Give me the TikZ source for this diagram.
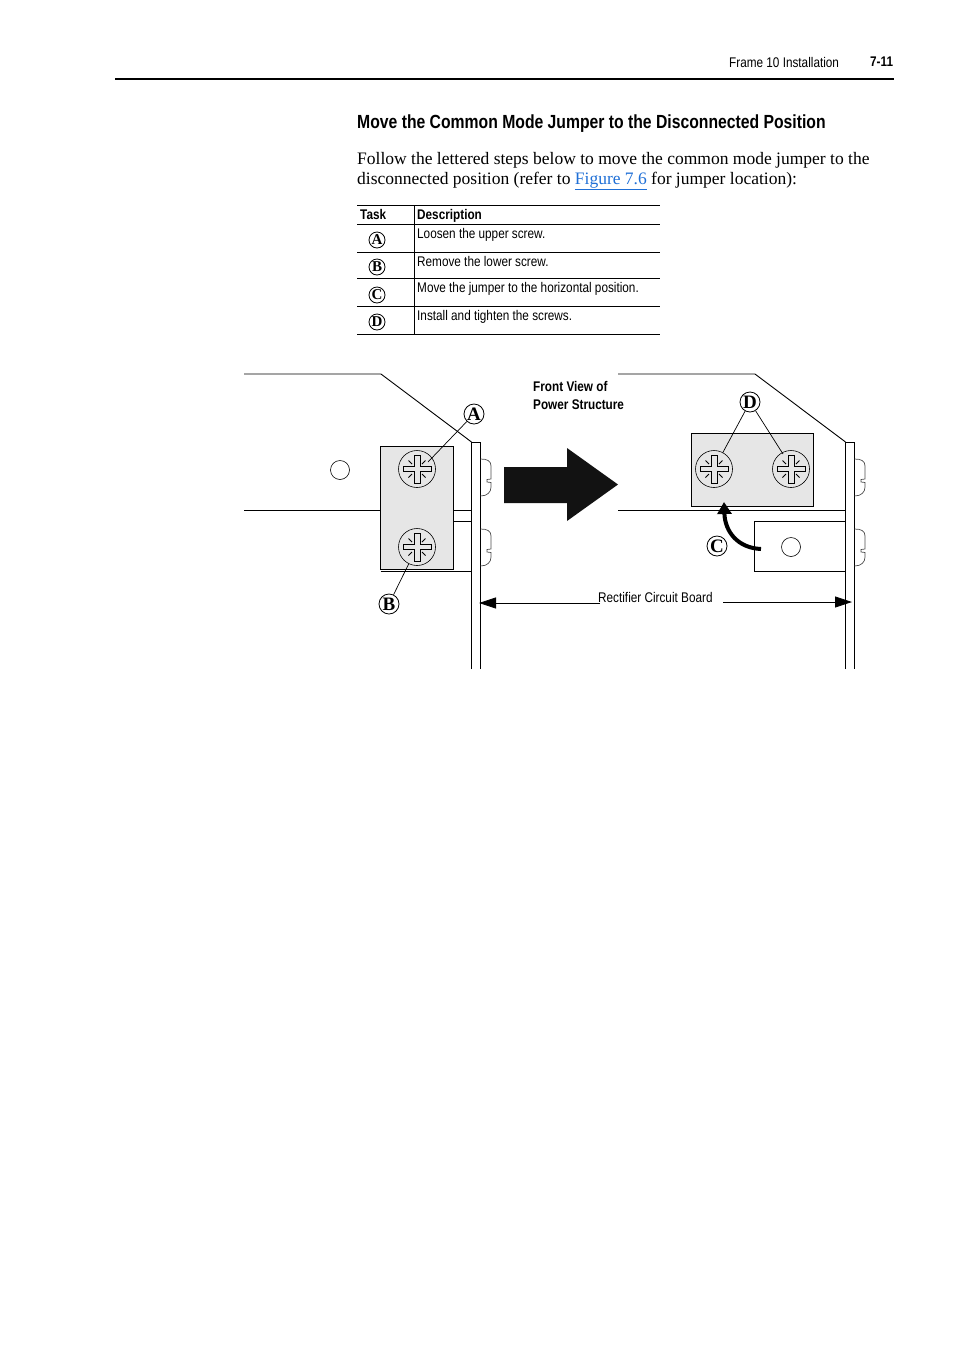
\documentclass[tikz,border=0pt]{standalone}
\usepackage{fontspec}
\setmainfont{Liberation Serif}
\newfontfamily\narrowsans[FakeStretch=0.84]{Liberation Sans}
\newfontfamily\headsans[FakeStretch=0.828]{Liberation Sans}
\usetikzlibrary{
  arrows.meta,
  positioning
}
\definecolor{platefill}{HTML}{E6E6E6}
\definecolor{linkblue}{HTML}{1F6FD6}
\tikzset{
  txtsmall/.style={inner sep=0, anchor=base west, font=\narrowsans\fontsize{14}{14}\selectfont},
  txtbold/.style={inner sep=0, anchor=base west, font=\narrowsans\bfseries\fontsize{14}{14}\selectfont},
  txtbody/.style={inner sep=0, anchor=base west, font=\fontsize{17.5}{20}\selectfont},
  callout/.style={circle, draw, line width=0.8, fill=white, inner sep=0, minimum size=20, font=\bfseries\fontsize{19}{19}\selectfont},
  taskmark/.style={circle, draw, line width=0.8, inner sep=0, minimum size=16, font=\bfseries\fontsize{15}{15}\selectfont},
  screwhead/.style={circle, draw, line width=0.6, inner sep=0, minimum size=37},
  hole/.style={circle, draw, line width=0.6, inner sep=0, minimum size=19},
  outline/.style={line width=0.9},
  leader/.style={line width=0.7},
  boardarrow/.style={line width=0.8, -{Stealth[inset=0,length=17,width=11]}},
  crosshead/.pic={
    \draw[line width=0.8, fill=platefill]
    (-14,-2.5) -- (-3,-2.5) -- (-3,-14) -- (3,-14) -- (3,-2.5) -- (14,-2.5)
    -- (14,2.5) -- (3,2.5) -- (3,14) -- (-3,14) -- (-3,2.5) -- (-14,2.5) -- cycle;
    \foreach \sx in {-1,1}
    \foreach \sy in {-1,1}
    \draw[line width=1] (\sx*5,\sy*5) -- (\sx*8.5,\sy*8.5);
  },
  bolthead/.pic={
    \draw[line width=0.7, draw=black!70]
    (0,0) .. controls (7,0) and (10.5,2) .. (10.5,7) -- (10.5,20) -- (6.5,20.5)
    -- (6.5,23) -- (10.5,23.5) -- (10.5,28) .. controls (10.5,33) and (7,37) .. (0,37);
  }
}
\begin{document}
\begin{tikzpicture}[x=1pt,y=-1pt]
  \useasboundingbox (0,0) rectangle (954,1350);

  % page header
  \node[txtsmall] (hdrname) at (729,67) {Frame 10 Installation};
  \node[txtbold] (hdrpage) at (870,66) {7-11};
  \draw[line width=1.8] (115,79) -- (894,79);

  % heading and paragraph
  \node[inner sep=0, anchor=base west, font=\headsans\bfseries\fontsize{19}{19}\selectfont]
  (heading) at (357,128) {Move the Common Mode Jumper to the Disconnected Position};
  \node[txtbody] (para1) at (357,164) {Follow the lettered steps below to move the common mode jumper to the};
  \node[txtbody] (para2) at (357,184) {disconnected position (refer to \textcolor{linkblue}{\underline{Figure 7.6}} for jumper location):};

  % task table
  \foreach \yrule in {205.5,224.5,252.5,278.5,306.5,334.5}
  \draw[line width=0.8] (357,\yrule) -- (660,\yrule);
  \draw[line width=0.8] (414.5,205) -- (414.5,335);
  \node[txtbold] (taskhdr) at (360,219) {Task};
  \node[txtbold] (deschdr) at (417,219) {Description};
  \node[taskmark] (taskA) at (377,240) {A};
  \node[taskmark] (taskB) at (377,267) {B};
  \node[taskmark] (taskC) at (377,295) {C};
  \node[taskmark] (taskD) at (377,322) {D};
  \node[txtsmall] (descA) at (417,238) {Loosen the upper screw.};
  \node[txtsmall] (descB) at (417,266) {Remove the lower screw.};
  \node[txtsmall] (descC) at (417,292) {Move the jumper to the horizontal position.};
  \node[txtsmall] (descD) at (417,320) {Install and tighten the screws.};

  % left view
  \draw[outline] (244,374) -- (381,374) -- (471.5,442);
  \draw[outline] (244,510) -- (471.5,510);
  \draw[outline] (453,521) -- (471.5,521);
  \draw[outline] (380.5,571.5) -- (471.5,571.5);
  \draw[outline, fill=platefill] (380.5,446) rectangle (453.5,569.5);
  \draw[outline] (471.5,669) -- (471.5,442) -- (480.5,442) -- (480.5,669);
  \node[hole] (holeL) at (340,470) {};
  \node[screwhead] (screwA) at (417,469) {};
  \node[screwhead] (screwB) at (417,547) {};
  \pic at (screwA) {crosshead};
  \pic at (screwB) {crosshead};
  \pic at (480.5,459) {bolthead};
  \pic at (480.5,529) {bolthead};
  \node[callout] (lblA) at (474,414) {A};
  \node[callout] (lblB) at (389,604) {B};
  \coordinate (tipA) at (428,462);
  \draw[leader] (lblA) -- (tipA);
  \draw[leader] (lblB) -- (screwB);

  % big arrow
  \fill[black!93] (504,467) -- (567,467) -- (567,448) -- (618,484.5) -- (567,521)
  -- (567,503) -- (504,503) -- cycle;

  % right view
  \node[txtbold] (front1) at (533,391) {Front View of};
  \node[txtbold] (front2) at (533,409) {Power Structure};
  \draw[outline] (618,374) -- (755,374) -- (845.5,442);
  \draw[outline] (618,510) -- (845.5,510);
  \draw[outline, fill=platefill] (691.5,433.5) rectangle (813.5,506.5);
  \draw[outline] (845.5,521) -- (754.5,521) -- (754.5,571.5) -- (845.5,571.5);
  \draw[outline] (845.5,669) -- (845.5,442) -- (854.5,442) -- (854.5,669);
  \node[hole] (holeR) at (791,547) {};
  \node[screwhead] (screwC) at (714,469) {};
  \node[screwhead] (screwD) at (791,469) {};
  \pic at (screwC) {crosshead};
  \pic at (screwD) {crosshead};
  \pic at (854.5,459) {bolthead};
  \pic at (854.5,529) {bolthead};
  \node[callout] (lblC) at (717,546) {C};
  \node[callout] (lblD) at (750,402) {D};
  \coordinate (tipD) at (783,454);
  \draw[leader] (lblD) -- (screwC);
  \draw[leader] (lblD) -- (tipD);
  \coordinate (jumpstart) at (761,549);
  \coordinate (jumpend) at (724,502);
  \draw[line width=4, -{Stealth[inset=0,length=12,width=14]}]
  (jumpstart) .. controls (738,548) and (725,532) .. (jumpend);

  % board label
  \node[txtsmall] (boardlbl) at (598,602) {Rectifier Circuit Board};
  \coordinate (boardL) at (479,603);
  \coordinate (boardLs) at (600,603);
  \coordinate (boardR) at (852,602);
  \coordinate (boardRs) at (723,602);
  \draw[boardarrow] (boardLs) -- (boardL);
  \draw[boardarrow] (boardRs) -- (boardR);
\end{tikzpicture}
\end{document}
